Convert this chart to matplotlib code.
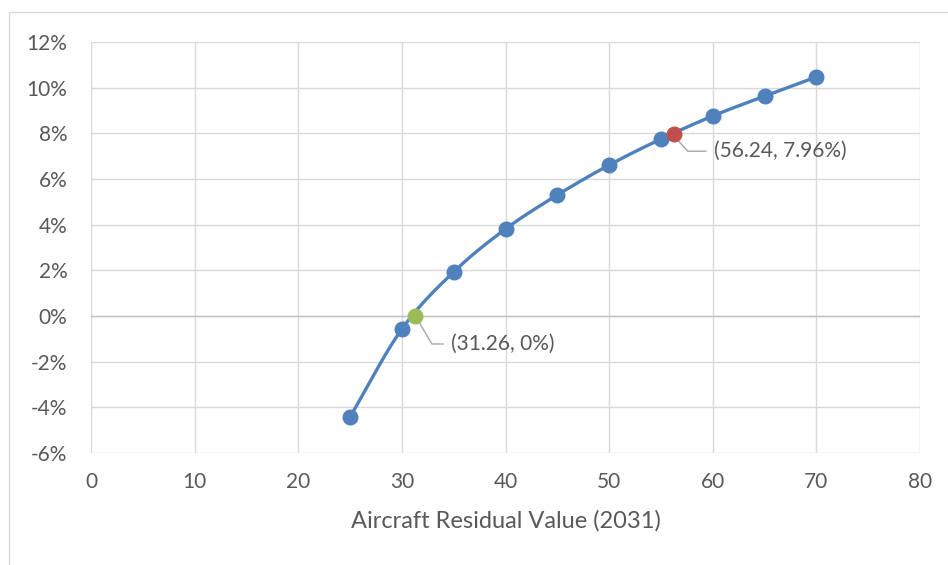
import numpy as np
import matplotlib.pyplot as plt
from matplotlib.patches import Rectangle
from matplotlib.ticker import FuncFormatter

# chart data
residual_value = [25, 30, 35, 40, 45, 50, 55, 60, 65, 70]
irr_pct = [-4.42, -0.57, 1.93, 3.81, 5.30, 6.61, 7.75, 8.76, 9.63, 10.47]
breakeven = (31.26, 0.0)
target = (56.24, 7.96)
x_ticks = [0, 10, 20, 30, 40, 50, 60, 70, 80]
y_ticks = [-6, -4, -2, 0, 2, 4, 6, 8, 10, 12]

BLUE = "#4F81BD"
GREEN = "#9BBB59"
RED = "#C0504D"
GRID = "#D9D9D9"
TEXT = "#595959"

plt.rcParams["font.family"] = ["Lato", "DejaVu Sans"]


def smooth_line(xs, ys, steps=30):
    # Catmull-Rom through the points, like Excel's smoothed line
    xs = np.asarray(xs, float)
    ys = np.asarray(ys, float)
    px = np.concatenate([[2 * xs[0] - xs[1]], xs, [2 * xs[-1] - xs[-2]]])
    py = np.concatenate([[2 * ys[0] - ys[1]], ys, [2 * ys[-1] - ys[-2]]])
    out_x, out_y = [], []
    t = np.linspace(0, 1, steps)
    for i in range(1, len(px) - 2):
        for p, out in ((px, out_x), (py, out_y)):
            p0, p1, p2, p3 = p[i - 1], p[i], p[i + 1], p[i + 2]
            seg = 0.5 * (2 * p1 + (-p0 + p2) * t
                         + (2 * p0 - 5 * p1 + 4 * p2 - p3) * t ** 2
                         + (-p0 + 3 * p1 - 3 * p2 + p3) * t ** 3)
            out.extend(seg)
    return out_x, out_y


W, H = 948, 565
fig = plt.figure(figsize=(W / 100, H / 100), dpi=100)
# light chart-area border (runs off the right and bottom edges)
fig.patches.append(Rectangle((9 / W, -0.1), 1.2, 1 - 12 / H + 0.1, transform=fig.transFigure,
                             fill=False, edgecolor="#D9D9D9", linewidth=1))

ax = fig.add_axes([91 / W, 1 - 453 / H, (920 - 91) / W, (453 - 42) / H])
ax.set_xlim(0, 80)
ax.set_ylim(-6, 12)
ax.set_xticks(x_ticks)
ax.set_yticks(y_ticks)
ax.yaxis.set_major_formatter(FuncFormatter(lambda v, p: f"{v:.0f}%"))
ax.grid(True, color=GRID, linewidth=1)
ax.set_axisbelow(True)
for s in ax.spines.values():
    s.set_visible(False)
ax.axhline(0, color="#BFBFBF", linewidth=1, zorder=1)
ax.tick_params(length=0, labelsize=15, labelcolor=TEXT)
ax.tick_params(axis="y", pad=17)
ax.tick_params(axis="x", pad=14)
ax.set_xlabel("Aircraft Residual Value (2031)", fontsize=17, color=TEXT, labelpad=13)

sx, sy = smooth_line(residual_value, irr_pct)
ax.plot(sx, sy, color=BLUE, linewidth=2.4, zorder=3)
ax.plot(residual_value, irr_pct, "o", color=BLUE, markersize=10.5, zorder=4)
ax.plot(*breakeven, "o", color=GREEN, markersize=10.5, zorder=5)
ax.plot(*target, "o", color=RED, markersize=10.5, zorder=5)

# data labels with leader lines, offsets in pixels from the point
for pt, kink, end, label in [(breakeven, (17, -28), (28, -28), "(31.26, 0%)"),
                             (target, (14, -17), (32, -17), "(56.24, 7.96%)")]:
    pts = [(4, -6), kink, end]
    base = ax.transData.transform(pt)
    disp = [(base[0] + dx, base[1] + dy) for dx, dy in pts]
    data_pts = ax.transData.inverted().transform(disp)
    ax.plot(data_pts[:, 0], data_pts[:, 1], color="#A6A6A6", linewidth=1, zorder=4.5)
    ax.annotate(label, xy=pt, xytext=(end[0] + 8, end[1]), textcoords="offset pixels",
                fontsize=15, color=TEXT, va="center", ha="left", zorder=6)

fig.savefig("out.png", dpi=100)
